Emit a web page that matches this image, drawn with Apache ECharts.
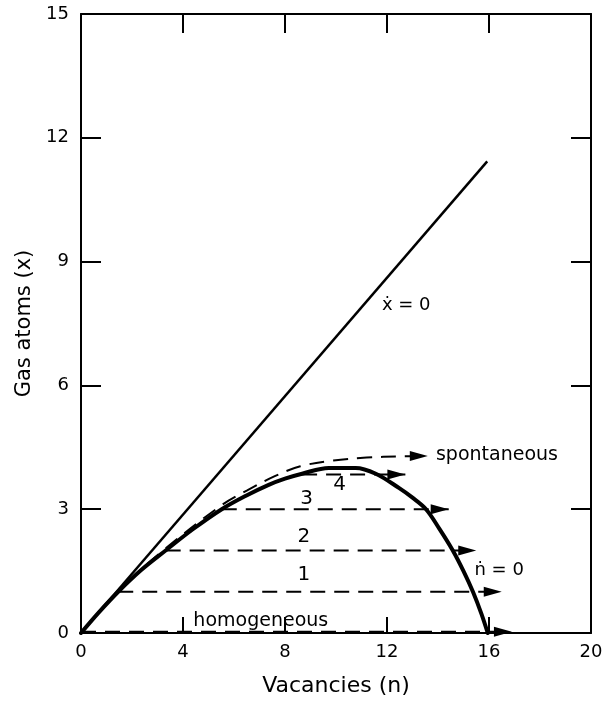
<!DOCTYPE html>
<html>
<head>
<meta charset="utf-8">
<script src="https://cdn.jsdelivr.net/npm/echarts@6/dist/echarts.min.js"></script>
<style>
html,body{margin:0;padding:0;background:#fff;}
#chart{width:614px;height:702px;}
</style>
</head>
<body>
<div id="chart"></div>
<script>
// ---- data ----
const xTicks = [0, 4, 8, 12, 16, 20];
const yTicks = [0, 3, 6, 9, 12, 15];

// x-dot = 0 line (n, x)
const xDotN = [0, 15.93];
const xDotX = [0, 11.43];

// n-dot = 0 curve (n, x)
const nDotN = [0, 0.7, 1.46, 2.35, 3.32, 4.4, 5.52, 6.45, 7.36, 8.0, 8.67, 9.72, 10.77, 11.56, 12.48, 13.0, 13.53, 14.05, 14.58, 15.0, 15.37, 15.7, 15.95];
const nDotX = [0, 0.5, 1.0, 1.52, 2.0, 2.52, 3.0, 3.32, 3.59, 3.74, 3.86, 4.0, 4.0, 3.86, 3.51, 3.28, 3.0, 2.53, 2.0, 1.5, 1.0, 0.47, 0];

// spontaneous trajectory (n, x), ends at arrow tip
const spontN = [0, 1.46, 3.32, 5.52, 6.5, 7.6, 8.6, 9.9, 11.2, 12.5, 13.6];
const spontX = [0, 1.02, 2.05, 3.1, 3.45, 3.8, 4.04, 4.18, 4.25, 4.28, 4.29];

// horizontal trajectories: level x, start n, arrow-tip n
const trajLevels = [0.03, 1, 2, 3, 3.84];
const trajStart  = [0, 1.46, 3.32, 5.52, 8.67];
const trajEnd    = [16.9, 16.5, 15.5, 14.42, 12.72];

// annotations
const noteTexts = ['spontaneous', '\u1E8B = 0', '\u1E45 = 0', '1', '2', '3', '4', 'homogeneous'];
const noteN     = [13.92, 11.8, 15.43, 8.74, 8.74, 8.85, 10.14, 7.05];
const noteX     = [4.3, 7.93, 1.52, 1.42, 2.32, 3.26, 3.6, 0.3];

// ---- chart ----
const FONT = '"DejaVu Sans", sans-serif';
const chart = echarts.init(document.getElementById('chart'), null, {renderer: 'canvas'});

const zip = (a, b) => a.map((v, i) => [v, b[i]]);

function withArrow(points, rotate) {
  return points.map((p, i) => {
    if (i === points.length - 1) {
      return {value: p, symbol: 'triangle', symbolSize: [10, 18], symbolRotate: rotate, symbolOffset: [-9, 0],
              itemStyle: {color: '#000', opacity: 1}};
    }
    return {value: p, symbol: 'none'};
  });
}

const DASH = [15, 9];
const series = [];

series.push({
  type: 'line', data: zip(xDotN, xDotX), showSymbol: false, symbol: 'none',
  lineStyle: {color: '#000', width: 2.5}, silent: true, z: 3
});

series.push({
  type: 'line', data: zip(nDotN, nDotX), showSymbol: false, symbol: 'none', smooth: 0.35,
  lineStyle: {color: '#000', width: 4, cap: 'round', join: 'round'}, silent: true, z: 4
});

series.push({
  type: 'line', data: withArrow(zip(spontN, spontX), -90), smooth: 0.35, showAllSymbol: true,
  lineStyle: {color: '#000', width: 2, type: DASH}, silent: true, z: 5
});

trajLevels.forEach((lv, i) => {
  series.push({
    type: 'line', data: withArrow([[trajStart[i], lv], [trajEnd[i], lv]], -90), showAllSymbol: true,
    lineStyle: {color: '#000', width: 2, type: DASH}, silent: true, z: 5
  });
});

const noteAlign = ['left', 'left', 'left', 'center', 'center', 'center', 'center', 'center'];
const noteSize  = [19, 18, 18, 20, 20, 20, 20, 19];
series.push({
  type: 'scatter', symbolSize: 0, silent: true, z: 6,
  itemStyle: {opacity: 1, color: '#000'},
  data: noteTexts.map((t, i) => ({
    value: [noteN[i], noteX[i]], name: t,
    label: {show: true, position: 'inside', formatter: t, color: '#000', opacity: 1, fontFamily: FONT,
            fontSize: noteSize[i], align: noteAlign[i], verticalAlign: 'middle'}
  }))
});

const axisLine = {show: true, onZero: false, lineStyle: {color: '#000', width: 2}};
const tickStyle = {color: '#000', width: 2};

chart.setOption({
  animation: false,
  backgroundColor: '#fff',
  grid: {left: 81, right: 23, top: 14, bottom: 58, containLabel: false},
  xAxis: [
    {type: 'value', position: 'bottom', min: xTicks[0], max: xTicks[xTicks.length - 1], interval: 4,
     axisLine: axisLine, axisTick: {show: true, inside: true, length: 16, lineStyle: tickStyle},
     splitLine: {show: false},
     axisLabel: {color: '#000', fontFamily: FONT, fontSize: 18, margin: 10},
     name: 'Vacancies (n)', nameLocation: 'middle', nameGap: 42,
     nameTextStyle: {color: '#000', fontFamily: FONT, fontSize: 22}},
    {type: 'value', position: 'top', min: xTicks[0], max: xTicks[xTicks.length - 1], interval: 4,
     axisLine: axisLine, axisTick: {show: true, inside: true, length: 19, lineStyle: tickStyle},
     splitLine: {show: false}, axisLabel: {show: false}}
  ],
  yAxis: [
    {type: 'value', position: 'left', min: yTicks[0], max: yTicks[yTicks.length - 1], interval: 3,
     axisLine: axisLine, axisTick: {show: true, inside: true, length: 20, lineStyle: tickStyle},
     splitLine: {show: false},
     axisLabel: {color: '#000', fontFamily: FONT, fontSize: 18, margin: 12},
     name: 'Gas atoms (x)', nameLocation: 'middle', nameGap: 45, nameRotate: 90,
     nameTextStyle: {color: '#000', fontFamily: FONT, fontSize: 21}},
    {type: 'value', position: 'right', min: yTicks[0], max: yTicks[yTicks.length - 1], interval: 3,
     axisLine: axisLine, axisTick: {show: true, inside: true, length: 20, lineStyle: tickStyle},
     splitLine: {show: false}, axisLabel: {show: false}}
  ],
  series: series
});
</script>
</body>
</html>
